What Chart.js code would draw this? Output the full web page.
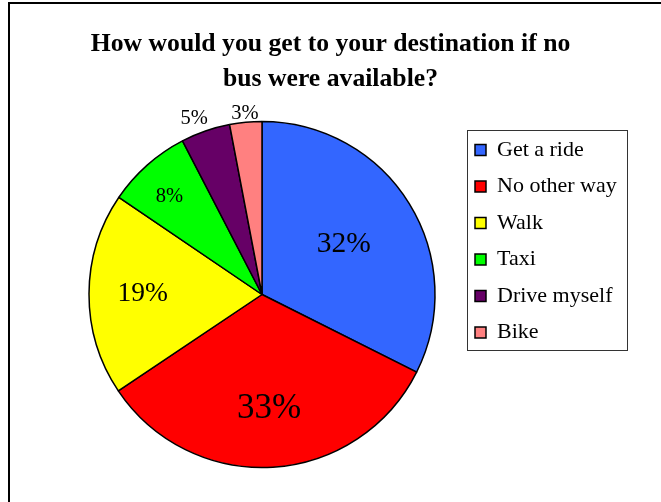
<!DOCTYPE html>
<html>
<head>
<meta charset="utf-8">
<script src="https://cdn.jsdelivr.net/npm/chart.js@4/dist/chart.umd.min.js"></script>
<style>
  html, body { margin: 0; padding: 0; background: #fff; }
  canvas { display: block; }
</style>
</head>
<body>
<canvas id="c" width="661" height="502"></canvas>
<script>
// ---- data ----
const categories = ["Get a ride", "No other way", "Walk", "Taxi", "Drive myself", "Bike"];
const shares = [32.4, 33.2, 18.9, 7.9, 4.6, 3.0];
const titleLines = ["How would you get to your destination if no", "bus were available?"];

// ---- styles ----
const sliceColors = ["#3366FF", "#FF0000", "#FFFF00", "#00FF00", "#660066", "#FF8080"];
const labelRadiusFrac = [0.555, 0.66, 0.69, 0.78, 1.09, 1.053];
const labelAngleShiftDeg = [0, 0, 0, -1.7, -2, 0];
const labelFontSize = [29.5, 35, 27.5, 20.5, 20.5, 20.5];
const SERIF = "'Liberation Serif', 'Times New Roman', serif";
const LEGEND_W = 160;      // legend box width
const SPACER_W = 23;       // left spacer so that the pie sits left of centre

// left spacer box (keeps title centred on the whole canvas while pie shifts left)
const spacerPlugin = {
  id: 'leftSpacer',
  beforeInit(chart) {
    const box = {
      position: 'left', weight: 0, fullSize: false, options: {},
      left: 0, top: 0, right: 0, bottom: 0, width: 0, height: 0,
      isHorizontal() { return false; },
      update(maxWidth, maxHeight) { this.width = SPACER_W; this.height = maxHeight; },
      draw() {}
    };
    Chart.layouts.addBox(chart, box);
  }
};

const framePlugin = {
  id: 'frame',
  beforeDraw(chart) {
    const ctx = chart.ctx;
    ctx.save();
    ctx.fillStyle = '#fff';
    ctx.fillRect(0, 0, chart.width, chart.height);
    ctx.fillStyle = '#000';
    ctx.fillRect(8, 2, 2, chart.height - 2);
    ctx.fillRect(8, 2, chart.width - 8, 2);
    ctx.restore();
  },
  afterDraw(chart) {
    const lg = chart.legend;
    if (!lg) return;
    const ctx = chart.ctx;
    ctx.save();
    ctx.strokeStyle = '#333';
    ctx.lineWidth = 1;
    ctx.strokeRect(Math.round(lg.left + 6.5) + 0.5, Math.round(lg.top + 5) + 0.5, 160, 220);
    ctx.restore();
  }
};

const pctLabelPlugin = {
  id: 'pctLabels',
  afterDatasetsDraw(chart) {
    const ctx = chart.ctx;
    const meta = chart.getDatasetMeta(0);
    const data = chart.data.datasets[0].data;
    const total = data.reduce((a, b) => a + b, 0);
    ctx.save();
    ctx.fillStyle = '#000';
    ctx.textAlign = 'center';
    ctx.textBaseline = 'middle';
    meta.data.forEach((arc, i) => {
      const p = arc.getProps(['x', 'y', 'startAngle', 'endAngle', 'outerRadius'], true);
      const mid = (p.startAngle + p.endAngle) / 2 + labelAngleShiftDeg[i] * Math.PI / 180;
      const d = p.outerRadius * labelRadiusFrac[i];
      const x = p.x + Math.cos(mid) * d;
      const y = p.y + Math.sin(mid) * d;
      ctx.font = labelFontSize[i] + 'px ' + SERIF;
      ctx.fillText(Math.round(data[i] / total * 100) + '%', x, y);
    });
    ctx.restore();
  }
};

new Chart(document.getElementById('c'), {
  type: 'pie',
  data: {
    labels: categories,
    datasets: [{
      data: shares,
      backgroundColor: sliceColors,
      borderColor: '#000',
      borderWidth: 1.5
    }]
  },
  options: {
    responsive: false,
    animation: false,
    devicePixelRatio: 1,
    radius: 173,
    layout: { padding: { left: 40.5, right: 40.5, top: 5, bottom: 37.5 } },
    plugins: {
      tooltip: { enabled: false },
      title: {
        display: true,
        text: titleLines,
        color: '#000',
        font: { family: SERIF, size: 25.7, weight: 'bold', lineHeight: 35 / 25.7 },
        padding: { top: 21.5, bottom: 28 }
      },
      legend: {
        display: true,
        position: 'right',
        align: 'start',
        fullSize: false,
        maxWidth: LEGEND_W,
        labels: {
          color: '#000',
          font: { family: SERIF, size: 22 },
          boxWidth: 11,
          boxHeight: 11,
          padding: 14.5
        }
      }
    }
  },
  plugins: [spacerPlugin, framePlugin, pctLabelPlugin]
});
</script>
</body>
</html>
